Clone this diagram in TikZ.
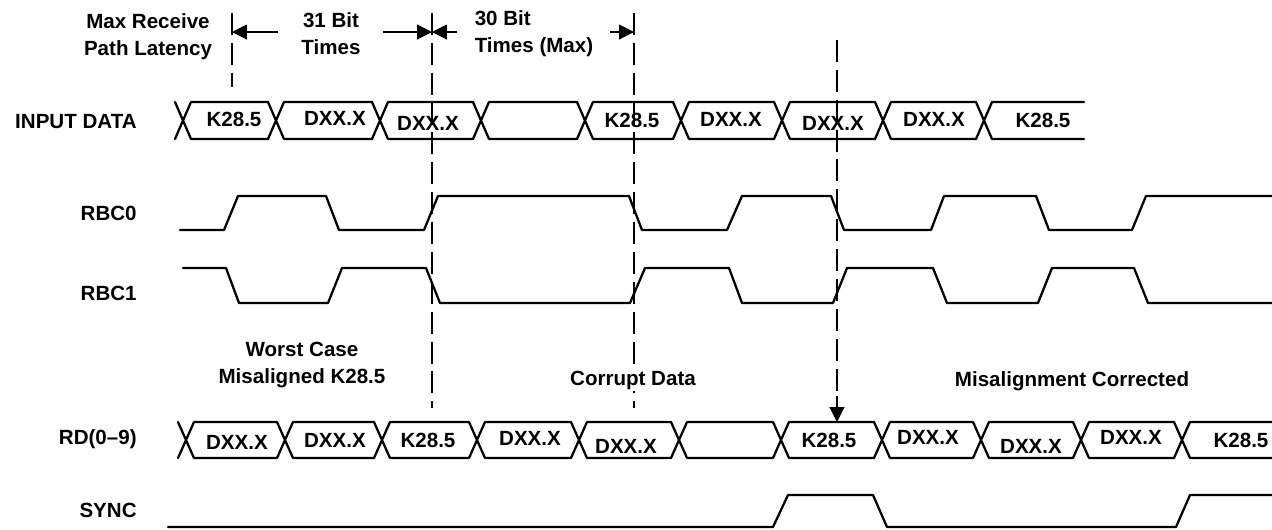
\documentclass[tikz,border=0pt]{standalone}
\usepackage{fontspec}
\setmainfont{Liberation Sans}
\usetikzlibrary{arrows.meta}

\begin{document}
\begin{tikzpicture}[x=0.02cm,y=-0.02cm,font=\bfseries\fontsize{11.7}{15.5}\selectfont]
\tikzstyle{sig} = [line width=1.3pt,line cap=round,line join=round]
\tikzstyle{guide} = [line width=0.6pt,dash pattern=on 12.5pt off 4.5pt]
\tikzstyle{dim} = [line width=0.6pt,arrows=-{Triangle[length=8.5pt,width=8.5pt]}]
\tikzstyle{rowlabel} = [anchor=east,inner sep=0pt]
\tikzstyle{hlabel} = [align=center,fill=white,inner sep=1pt]
\tikzstyle{buslabel} = [inner sep=0pt]
\useasboundingbox (0,0) rectangle (1272,529);

\node[rowlabel] (lin) at (137,122) {INPUT DATA};
\node[rowlabel] (lrbc0) at (137,213) {RBC0};
\node[rowlabel] (lrbc1) at (137,293) {RBC1};
\node[rowlabel] (lrd) at (137,439) {RD(0--9)};
\node[rowlabel] (lsync) at (137,510) {SYNC};

% guide lines
\draw[guide] (232,13) -- (232,87);
\draw[guide] (432,13) -- (432,408);
\draw[guide] (634,13) -- (634,408);
\draw[guide] (837,40) -- (837,400);

\node[hlabel] (maxrx) at (148,37) {Max Receive\\Path Latency};
\node[hlabel] (t31) at (331,34) {31 Bit\\Times};
\node[hlabel,align=left] (t30) at (534,34) {30 Bit\\Times (Max)};
\coordinate (g1) at (232,32);
\coordinate (g2) at (432,32);
\coordinate (g3) at (634,32);
\coordinate (a1) at (278,32);
\coordinate (a2) at (383,32);
\coordinate (a3) at (457,32);
\coordinate (a4) at (610,32);
\draw[dim] (a1) -- (g1);
\draw[dim] (a2) -- (g2);
\draw[dim] (a3) -- (g2);
\draw[dim] (a4) -- (g3);

% input data
\foreach \a/\b/\t/\lx/\ly [count=\i] in {183/276/K28.5/234/119, 276/380/DXX.X/335/118,
    380/481/DXX.X/428/123, 481/585//533/120, 585/681/K28.5/632/120, 681/782/DXX.X/731/119,
    782/883/DXX.X/833/123, 883/984/DXX.X/934/119, 984/1092/K28.5/1043/120}
{
  \draw[sig] (\a-8,102) -- (\a+8,139) (\a-8,139) -- (\a+8,102)
    (\a+8,102) -- (\b-8,102) (\a+8,139) -- (\b-8,139);
  \node[buslabel] (in\i) at (\lx,\ly) {\t};
}

% RBC0 and RBC1
\draw[sig] (180,230) -- (224,230) -- (238,196) -- (326,196) -- (339,230) -- (424,230)
  -- (438,196) -- (629,196) -- (642,230) -- (727,230) -- (742,196) -- (831,196)
  -- (844,230) -- (931,230) -- (944,196) -- (1036,196) -- (1049,230) -- (1132,230)
  -- (1146,196) -- (1272,196);
\draw[sig] (183,268) -- (226,268) -- (239,303) -- (328,303) -- (342,268) -- (426,268)
  -- (440,303) -- (630,303) -- (645,268) -- (729,268) -- (742,303) -- (833,303)
  -- (847,268) -- (933,268) -- (947,303) -- (1038,303) -- (1052,268) -- (1134,268)
  -- (1148,303) -- (1272,303);

\node[hlabel] (worst) at (302,365) {Worst Case\\Misaligned K28.5};
\node[hlabel] (corrupt) at (633,380) {Corrupt Data};
\node[hlabel] (fixed) at (1072,381) {Misalignment Corrected};

\coordinate (s1) at (837,396);
\coordinate (rdtop) at (837,422);
\draw[dim] (s1) -- (rdtop);

% RD(0-9)
\foreach \a/\b/\t/\lx/\ly [count=\i] in {186/285/DXX.X/237/442, 285/382/DXX.X/335/440,
    382/477/K28.5/428/440, 477/579/DXX.X/530/438, 579/679/DXX.X/626/446, 679/781//730/440,
    781/882/K28.5/829/440, 882/981/DXX.X/928/437, 981/1081/DXX.X/1031/446,
    1081/1182/DXX.X/1131/437, 1182/1282/K28.5/1241/440}
{
  \draw[sig] (\a-8,422) -- (\a+8,458) (\a-8,458) -- (\a+8,422)
    (\a+8,422) -- (\b-8,422) (\a+8,458) -- (\b-8,458);
  \node[buslabel] (rd\i) at (\lx,\ly) {\t};
}

% SYNC
\draw[sig] (168,527) -- (773,527) -- (788,495) -- (873,495) -- (887,527) -- (1176,527)
  -- (1190,495) -- (1272,495);
\end{tikzpicture}
\end{document}
